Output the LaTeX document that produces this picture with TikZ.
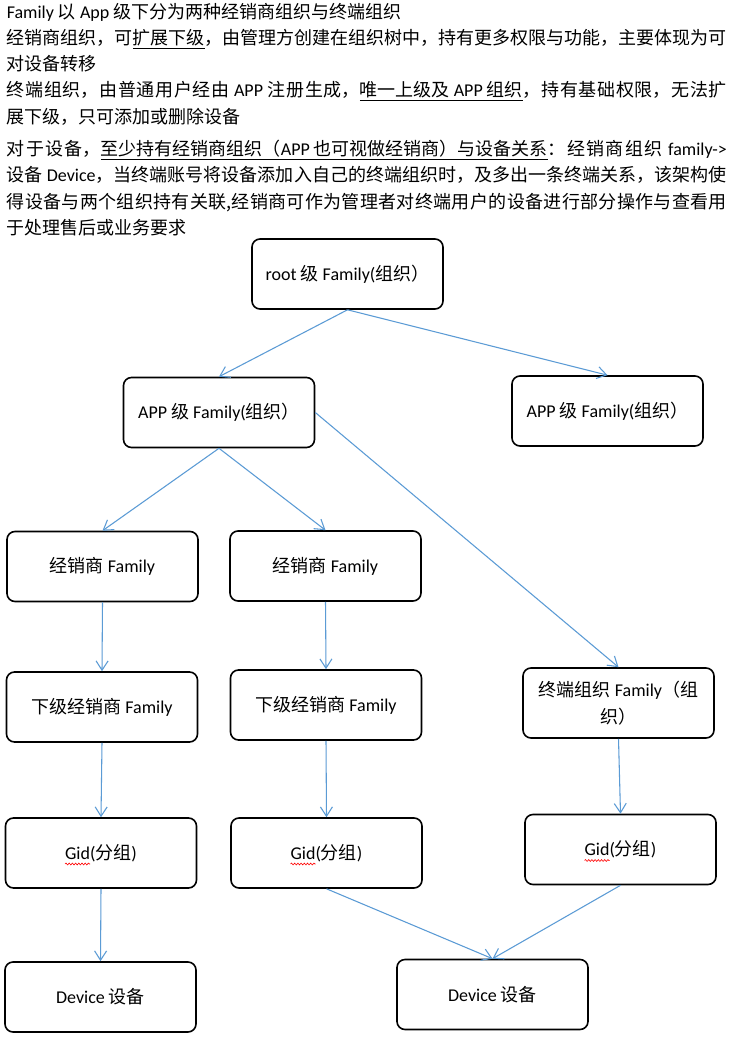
\documentclass[tikz,border=0pt]{standalone}
\usepackage{fontspec}
\setmainfont{Noto Sans CJK SC}
\newfontfamily\la{Carlito}
\usetikzlibrary{arrows.meta,calc,decorations.pathmorphing}
\definecolor{arrowblue}{RGB}{91,155,213}
\newcommand\parafont{\fontsize{13.5pt}{19.8pt}\selectfont\XeTeXlinebreaklocale "zh"\XeTeXlinebreakskip=0pt plus 1.5pt\parindent=0pt}
\begin{document}
\begin{tikzpicture}[x=0.75pt,y=-0.75pt,
  box/.style={draw=black, line width=1.2pt, rounded corners=6pt, minimum width=143.25pt, minimum height=52.5pt, inner sep=2pt, align=center, font=\fontsize{13.5pt}{20pt}\selectfont},
  link/.style={draw=arrowblue, line width=0.8pt, -{Straight Barb[length=7pt,width=9pt]}},
  para/.style={anchor=base west, inner sep=0pt},
  spell/.style={draw=red, line width=0.45pt, decorate, decoration={snake, segment length=2.4pt, amplitude=0.7pt}}]
\useasboundingbox[fill=white] (0,0) rectangle (729,1037);

% text paragraphs
\node[para] (p1) at (6.5,18.5) {\parbox[t]{540pt}{\parafont {\la Family} 以 {\la App} 级下分为两种经销商组织与终端组织\par}};
\node[para] (p2) at (6.5,44.5) {\parbox[t]{540pt}{\parafont 经销商组织，可\underline{扩展下级}，由管理方创建在组织树中，持有更多权限与功能，主要体现为可\linebreak 对设备转移\par}};
\node[para] (p3) at (6.5,97) {\parbox[t]{540pt}{\parafont 终端组织，由普通用户经由 {\la APP} 注册生成，\underline{唯一上级及 {\la APP} 组织}，持有基础权限，无法扩\linebreak 展下级，只可添加或删除设备\par}};
\node[para] (p4) at (6.5,155.5) {\parbox[t]{540pt}{\parafont 对于设备，\underline{至少持有经销商组织（{\la APP} 也可视做经销商）与设备关系}：经销商组织 {\la family->}\linebreak 设备 {\la Device}，当终端账号将设备添加入自己的终端组织时，及多出一条终端关系，该架构使\linebreak 得设备与两个组织持有关联,经销商可作为管理者对终端用户的设备进行部分操作与查看用\linebreak 于处理售后或业务要求\par}};

% boxes
\node[box] (root) at (347.5,274) {{\la root} 级 {\la Family(}组织）};
\node[box] (appL) at (219,412.5) {{\la APP} 级 {\la Family(}组织）};
\node[box] (appR) at (607.5,411) {{\la APP} 级 {\la Family(}组织）};
\node[box] (dist1) at (102.5,566.5) {经销商 {\la Family}};
\node[box] (dist2) at (325.5,566) {经销商 {\la Family}};
\node[box] (sub1) at (102,707) {下级经销商 {\la Family}};
\node[box] (sub2) at (326,705) {下级经销商 {\la Family}};
\node[box] (term) at (618.5,703) {终端组织 {\la Family}（组\\织）};
\node[box] (gid1) at (101,853) {{\la Gid(}分组{\la )}};
\node[box] (gid2) at (326.5,853) {{\la Gid(}分组{\la )}};
\node[box] (gid3) at (620.5,849.5) {{\la Gid(}分组{\la )}};
\node[box] (dev1) at (100.5,997) {{\la Device} 设备};
\node[box] (dev2) at (492.5,994.5) {{\la Device} 设备};

% spell-check marks under "Gid"
\foreach \g in {gid1,gid2,gid3}
  \draw[spell] ($(\g.center)+(-36,11)$) -- ++(25,0);

% connectors
\draw[link] (root.south) -- (appL.north);
\draw[link] (root.south) -- (appR.north);
\draw[link] (appL.south) -- (dist1.north);
\draw[link] (appL.south) -- (dist2.north);
\draw[link] (appL.east) -- (term.north);
\draw[link] (dist1.south) -- (sub1.north);
\draw[link] (dist2.south) -- (sub2.north);
\draw[link] (sub1.south) -- (gid1.north);
\draw[link] (sub2.south) -- (gid2.north);
\draw[link] (term.south) -- (gid3.north);
\draw[link] (gid1.south) -- (dev1.north);
\draw[link] (gid2.south) -- (dev2.north);
\draw[link] (gid3.south) -- (dev2.north);
\end{tikzpicture}
\end{document}
